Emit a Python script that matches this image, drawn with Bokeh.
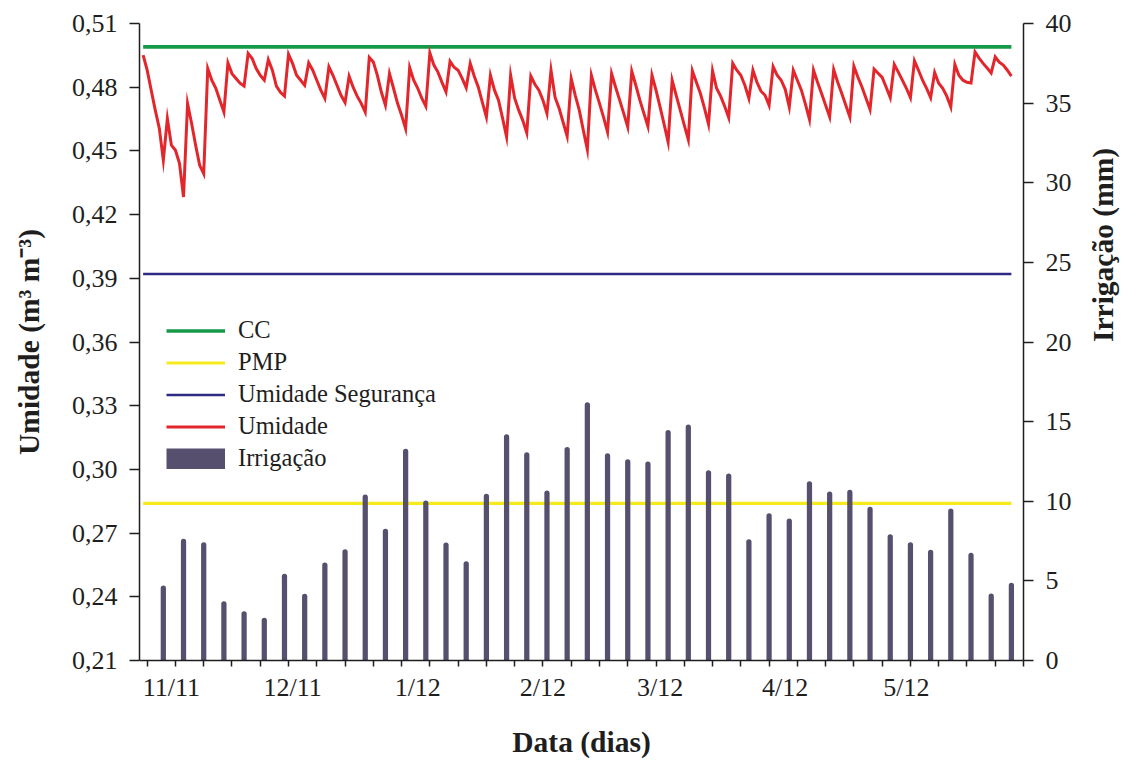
import math
from datetime import date
from bokeh.plotting import figure
from bokeh.models import Range1d, LinearAxis, FixedTicker
from bokeh.embed import file_html
from bokeh.resources import INLINE

# ---------------- data ----------------
inicio = date(2011, 10, 26)          # day 0 of the x axis
meses = [date(2011, 11, 1), date(2011, 12, 1), date(2012, 1, 1), date(2012, 2, 1),
         date(2012, 3, 1), date(2012, 4, 1), date(2012, 5, 1)]
rotulos_meses = ["11/11", "12/11", "1/12", "2/12", "3/12", "4/12", "5/12"]

dias_umidade = list(range(-1, 215))   # daily readings
umidade = [
    0.4951, 0.4880, 0.4786, 0.4692, 0.4607,
    0.4456, 0.4652, 0.4527, 0.4503, 0.4442,
    0.4283, 0.4723, 0.4630, 0.4527, 0.4432,
    0.4393, 0.4888, 0.4833, 0.4795, 0.4739,
    0.4683, 0.4914, 0.4864, 0.4841, 0.4819,
    0.4805, 0.4959, 0.4935, 0.4888, 0.4856,
    0.4833, 0.4930, 0.4880, 0.4805, 0.4776,
    0.4758, 0.4955, 0.4912, 0.4856, 0.4833,
    0.4809, 0.4914, 0.4880, 0.4833, 0.4786,
    0.4747, 0.4896, 0.4856, 0.4809, 0.4762,
    0.4728, 0.4852, 0.4800, 0.4758, 0.4724,
    0.4683, 0.4940, 0.4919, 0.4856, 0.4776,
    0.4715, 0.4864, 0.4795, 0.4724, 0.4668,
    0.4605, 0.4893, 0.4833, 0.4795, 0.4748,
    0.4710, 0.4962, 0.4904, 0.4871, 0.4823,
    0.4778, 0.4922, 0.4894, 0.4880, 0.4842,
    0.4798, 0.4912, 0.4852, 0.4800, 0.4729,
    0.4660, 0.4856, 0.4786, 0.4739, 0.4654,
    0.4566, 0.4856, 0.4748, 0.4692, 0.4644,
    0.4585, 0.4852, 0.4814, 0.4786, 0.4739,
    0.4676, 0.4880, 0.4753, 0.4701, 0.4635,
    0.4569, 0.4841, 0.4762, 0.4692, 0.4597,
    0.4506, 0.4856, 0.4786, 0.4724, 0.4659,
    0.4589, 0.4864, 0.4800, 0.4739, 0.4677,
    0.4613, 0.4875, 0.4809, 0.4739, 0.4677,
    0.4616, 0.4856, 0.4786, 0.4707, 0.4626,
    0.4542, 0.4833, 0.4762, 0.4692, 0.4621,
    0.4553, 0.4877, 0.4823, 0.4770, 0.4701,
    0.4626, 0.4877, 0.4795, 0.4758, 0.4710,
    0.4657, 0.4912, 0.4880, 0.4856, 0.4809,
    0.4747, 0.4880, 0.4823, 0.4781, 0.4762,
    0.4715, 0.4897, 0.4856, 0.4833, 0.4790,
    0.4707, 0.4880, 0.4833, 0.4786, 0.4720,
    0.4648, 0.4880, 0.4823, 0.4770, 0.4715,
    0.4660, 0.4883, 0.4823, 0.4770, 0.4715,
    0.4660, 0.4899, 0.4847, 0.4801, 0.4748,
    0.4695, 0.4885, 0.4866, 0.4846, 0.4800,
    0.4751, 0.4907, 0.4871, 0.4833, 0.4795,
    0.4751, 0.4924, 0.4880, 0.4833, 0.4795,
    0.4751, 0.4869, 0.4819, 0.4795, 0.4758,
    0.4707, 0.4907, 0.4856, 0.4833, 0.4823,
    0.4820, 0.4966, 0.4937, 0.4912, 0.4890,
    0.4867, 0.4943, 0.4918, 0.4904, 0.4880,
    0.4852,
]

cc = 0.499                 # capacidade de campo
pmp = 0.284                # ponto de murcha permanente
umidade_seguranca = 0.392

dias_irrigacao = list(range(4, 215, 5))
irrigacao = [4.71, 7.64, 7.43, 3.72, 3.10, 2.68, 5.45, 4.19, 6.16, 6.99,
             10.43, 8.27, 13.3, 10.05, 7.41, 6.24, 10.47, 14.2, 13.07, 10.68,
             13.4, 16.22, 13.02, 12.64, 12.5, 14.47, 14.82, 11.95, 11.75, 7.62,
             9.25, 8.92, 11.26, 10.62, 10.72, 9.65, 7.93, 7.43, 6.95, 9.55,
             6.77, 4.21, 4.88]

ticks_umidade = [0.21, 0.24, 0.27, 0.30, 0.33, 0.36, 0.39, 0.42, 0.45, 0.48, 0.51]
ticks_irrigacao = [0, 5, 10, 15, 20, 25, 30, 35, 40]
semanas = list(range(0, 218, 7))

# ---------------- figure ----------------
FONT = "Liberation Serif"
INK = "#1e1e1e"
BAR = "#56506e"

dias_meses = [(m - inicio).days for m in meses]
periodo = [dias_umidade[0], dias_umidade[-1]]

p = figure(width=1137, height=760, output_backend="svg", toolbar_location=None,
           x_range=Range1d(-1.9, 217), y_range=Range1d(0.21, 0.51),
           min_border_left=139, min_border_right=113, min_border_top=23,
           min_border_bottom=100)
p.extra_y_ranges = {"irr": Range1d(0, 40)}
p.grid.visible = False
p.outline_line_color = None
p.background_fill_color = "white"
p.border_fill_color = "white"

p.line(periodo, [cc, cc], line_color="#17994a", line_width=3.6, legend_label="CC")
p.line(periodo, [pmp, pmp], line_color="#f6ea1c", line_width=3.2, legend_label="PMP")
p.line(periodo, [umidade_seguranca, umidade_seguranca], line_color="#2d2a84",
       line_width=2.6, legend_label="Umidade Segurança")
p.line(dias_umidade, umidade, line_color="#e3262b", line_width=3.0,
       line_join="miter", legend_label="Umidade")
p.vbar(x=dias_irrigacao, top=irrigacao, bottom=0, width=1.3, y_range_name="irr",
       fill_color=BAR, line_color=None, border_radius=(3, 3, 0, 0))
# legend key for the bars: a single-point line draws nothing in the plot,
# but gives the full-size block swatch of the original key
p.line(x=dias_irrigacao[:1], y=[0], y_range_name="irr", line_color=BAR,
       line_width=21, line_cap="butt", legend_label="Irrigação")

# x axis
xa = p.xaxis[0]
xa.ticker = FixedTicker(ticks=dias_meses, minor_ticks=semanas)
xa.major_label_overrides = {d: r for d, r in zip(dias_meses, rotulos_meses)}
xa.major_tick_out = 0
xa.major_tick_in = 0
xa.minor_tick_out = 6
xa.minor_tick_in = 0
xa.major_label_standoff = 6
xa.axis_label = "Data (dias)"
xa.axis_label_standoff = 21

# left axis
ya = p.yaxis[0]
ya.ticker = FixedTicker(ticks=ticks_umidade)
ya.major_label_overrides = {t: f"{t:.2f}".replace(".", ",") for t in ticks_umidade}
ya.major_tick_out = 10
ya.major_tick_in = 0
ya.minor_tick_out = 0
ya.minor_tick_in = 0
ya.major_label_standoff = 12
ya.axis_label = "Umidade (m³ m⁻³)"
ya.axis_label_standoff = 24

# right axis
ra = LinearAxis(y_range_name="irr", ticker=FixedTicker(ticks=ticks_irrigacao))
ra.major_tick_out = 10
ra.major_tick_in = 0
ra.minor_tick_out = 0
ra.minor_tick_in = 0
ra.major_label_standoff = 12
ra.axis_label = "Irrigação (mm)"
ra.axis_label_standoff = 28
try:
    ra.axis_label_orientation = math.pi / 2
except Exception:
    pass
p.add_layout(ra, "right")

for ax in (xa, ya, ra):
    ax.axis_line_color = INK
    ax.axis_line_width = 1.5
    ax.major_tick_line_color = INK
    ax.major_tick_line_width = 1.5
    ax.minor_tick_line_color = INK
    ax.minor_tick_line_width = 1.5
    ax.major_label_text_font = FONT
    ax.major_label_text_font_size = "26px"
    ax.major_label_text_color = INK
    ax.axis_label_text_font = FONT
    ax.axis_label_text_font_size = "29.5px"
    ax.axis_label_text_font_style = "bold"
    ax.axis_label_text_color = INK

# legend
lg = p.legend[0]
lg.location = (27, 188)
lg.padding = 0
lg.margin = 0
lg.spacing = 4
lg.glyph_width = 59
lg.glyph_height = 21
lg.label_height = 22
lg.label_standoff = 13
lg.label_text_font = FONT
lg.label_text_font_size = "24.5px"
lg.label_text_color = INK
lg.border_line_color = None
lg.background_fill_alpha = 0

open("out.html", "w").write(file_html(p, INLINE))
